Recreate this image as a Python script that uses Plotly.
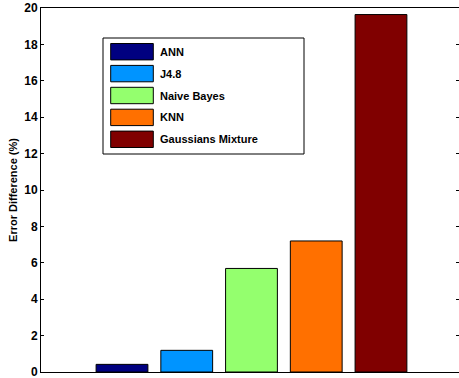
import plotly.graph_objects as go

# ---- data ----
methods = ["ANN", "J4.8", "Naive Bayes", "KNN", "Gaussians Mixture"]
error_diff = [0.42, 1.19, 5.69, 7.20, 19.64]
colors = ["#000080", "#0094FF", "#94FF6E", "#FF7000", "#800000"]
y_ticks = [0, 2, 4, 6, 8, 10, 12, 14, 16, 18, 20]

W, H = 459, 378
ML, MR, MT, MB = 41, 0, 8, 6
PW, PH = W - ML - MR, H - MT - MB

def px(x):
    return (x - ML) / PW

def py(y):
    return (H - MB - y) / PH

fig = go.Figure()
for i, (m, v, c) in enumerate(zip(methods, error_diff, colors)):
    fig.add_trace(go.Bar(
        x=[i], y=[v], name=m, width=0.8,
        marker=dict(color=c, line=dict(color="#000000", width=1)),
        showlegend=False,
    ))

# invisible trace to drive a right-side tick axis (ticks only, no line)
fig.add_trace(go.Scatter(x=[0], y=[0], yaxis="y2", mode="markers",
                         marker=dict(opacity=0), showlegend=False, hoverinfo="skip"))

shapes = []
annotations = []
# legend box
shapes.append(dict(type="rect", xref="paper", yref="paper",
                   x0=px(103), x1=px(304), y0=py(154), y1=py(38),
                   line=dict(color="#000000", width=1), fillcolor="#FFFFFF", layer="above"))
for k, (m, c) in enumerate(zip(methods, colors)):
    cy = 51.7 + k * 21.9
    shapes.append(dict(type="rect", xref="paper", yref="paper",
                       x0=px(110.7), x1=px(153.3), y0=py(cy + 8.2), y1=py(cy - 8.2),
                       line=dict(color="#000000", width=1), fillcolor=c, layer="above"))
    annotations.append(dict(xref="paper", yref="paper", x=px(158), y=py(cy),
                            xanchor="left", yanchor="middle", text=m, showarrow=False,
                            font=dict(family="Liberation Sans", size=11, color="#000000", weight="bold")))

fig.update_layout(
    width=W, height=H,
    margin=dict(l=ML, r=MR, t=MT, b=MB, pad=0),
    plot_bgcolor="#FFFFFF", paper_bgcolor="#FFFFFF",
    bargap=0.2,
    xaxis=dict(range=[-1.251, 5.205], showticklabels=False, ticks="",
               showgrid=False, zeroline=False, showline=True, mirror=True,
               linecolor="#000000", linewidth=1),
    yaxis=dict(range=[0, 20], tickvals=y_ticks, ticks="inside", ticklen=3,
               tickcolor="#000000", showgrid=False, zeroline=False,
               showline=True, linecolor="#000000", linewidth=1,
               ticklabeloverflow="allow",
               tickfont=dict(family="Liberation Sans", size=12, color="#000000", weight="bold"),
               title=dict(text="Error Difference (%)", standoff=4,
                          font=dict(family="Liberation Sans", size=11, color="#000000", weight="bold"))),
    yaxis2=dict(range=[0, 20], tickvals=y_ticks, ticks="inside", ticklen=3,
                tickcolor="#000000", overlaying="y", side="right",
                showticklabels=False, showgrid=False, zeroline=False, showline=False),
    shapes=shapes,
    annotations=annotations,
)

fig.write_html("out.html")
